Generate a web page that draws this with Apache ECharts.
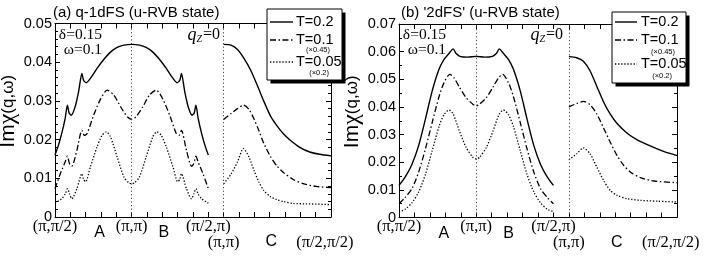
<!DOCTYPE html>
<html><head><meta charset="utf-8">
<script src="https://cdn.jsdelivr.net/npm/echarts@6/dist/echarts.min.js"></script>
<style>html,body{margin:0;padding:0;background:#fff}#c{width:708px;height:257px}</style>
</head><body><div id="c"></div>
<script>
// ---- x positions (path length along q-path, units of pi/2) ----
const xLabelPos   = [0, 0.58, 1, 1.42, 2, 2.2, 2.82, 3.52];
const xLabelText  = ['(π,π/2)', 'A', '(π,π)', 'B', '(π/2,π)', '(π,π)', 'C', '(π/2,π/2)'];
const xLabelStyle = ['p', 'l', 'p', 'l', 'p', 'p2', 'l2', 'p2'];
const vLines = [1, 2.2];

// ---- panel (a) q-1dFS ----
const aT02AB = [[0,.0160],[.044,.0185],[.088,.0216],[.132,.0254],[.162,.0289],[.184,.0269],[.211,.0263],[.263,.0285],[.307,.0323],[.351,.0371],[.373,.0353],[.408,.0347],[.461,.0358],[.548,.0384],[.636,.0407],[.724,.0426],[.811,.0438],[.899,.0444],[1,.0446],
  [1.101,.0444],[1.189,.0438],[1.276,.0426],[1.364,.0407],[1.452,.0384],[1.539,.0358],[1.592,.0347],[1.627,.0353],[1.649,.0371],[1.693,.0323],[1.737,.0285],[1.789,.0263],[1.816,.0269],[1.838,.0289],[1.868,.0254],[1.912,.0216],[1.956,.0185],[2,.0160]];
const aT02C = [[2.2,.0446],[2.294,.0444],[2.38,.0433],[2.465,.0410],[2.551,.0380],[2.637,.0341],[2.722,.0300],[2.808,.0262],[2.894,.0236],[2.979,.0215],[3.065,.0199],[3.193,.0180],[3.322,.0168],[3.45,.0162],[3.6,.0158]];
const aT01AB = [[0,.0073],[.066,.0110],[.132,.0142],[.162,.0157],[.189,.0138],[.219,.0131],[.285,.0172],[.351,.0224],[.382,.0211],[.417,.0215],[.504,.0263],[.592,.0304],[.680,.0328],[.768,.0315],[.855,.0285],[.943,.0259],[1,.0252],
  [1.057,.0259],[1.145,.0285],[1.232,.0315],[1.320,.0328],[1.408,.0304],[1.496,.0263],[1.583,.0215],[1.618,.0211],[1.649,.0224],[1.715,.0172],[1.781,.0131],[1.811,.0138],[1.838,.0157],[1.868,.0142],[1.934,.0110],[2,.0073]];
const aT01C = [[2.2,.0252],[2.294,.0267],[2.38,.0280],[2.457,.0289],[2.53,.0278],[2.594,.0254],[2.658,.0224],[2.722,.0191],[2.808,.0157],[2.894,.0132],[2.979,.0115],[3.108,.0097],[3.236,.0086],[3.407,.0079],[3.6,.0076]];
const aT005AB = [[0,.0036],[.088,.0047],[.132,.0059],[.162,.0073],[.189,.0060],[.219,.0047],[.285,.0073],[.351,.0112],[.373,.0097],[.399,.0091],[.461,.0129],[.548,.0181],[.614,.0211],[.671,.0220],[.724,.0207],[.811,.0155],[.899,.0103],[.965,.0088],[1,.0086],
  [1.035,.0088],[1.101,.0103],[1.189,.0155],[1.276,.0207],[1.329,.0220],[1.386,.0211],[1.452,.0181],[1.539,.0129],[1.601,.0091],[1.627,.0097],[1.649,.0112],[1.715,.0073],[1.781,.0047],[1.811,.0060],[1.838,.0073],[1.868,.0059],[1.912,.0047],[2,.0036]];
const aT005C = [[2.2,.0086],[2.294,.0110],[2.38,.0142],[2.457,.0177],[2.53,.0155],[2.594,.0121],[2.658,.0091],[2.722,.0069],[2.808,.0053],[2.894,.0045],[2.979,.0040],[3.108,.0035],[3.279,.0034],[3.6,.0032]];

// ---- panel (b) '2dFS' ----
const bT02AB = [[0,.0116],[.079,.0146],[.167,.0192],[.254,.0260],[.342,.0356],[.430,.0458],[.518,.0536],[.583,.0572],[.649,.0594],[.702,.0610],[.737,.0594],[.789,.0583],[.890,.0580],[1,.0583],
  [1.110,.0580],[1.211,.0583],[1.263,.0594],[1.298,.0610],[1.351,.0594],[1.417,.0572],[1.482,.0536],[1.570,.0458],[1.658,.0356],[1.746,.0260],[1.833,.0192],[1.921,.0146],[2,.0116]];
const bT02C = [[2.2,.0582],[2.3,.0578],[2.388,.0565],[2.475,.0530],[2.562,.0474],[2.649,.0418],[2.736,.0374],[2.824,.0340],[2.955,.0305],[3.085,.0281],[3.26,.0258],[3.434,.0238],[3.6,.0224]];
const bT01AB = [[0,.0050],[.079,.0072],[.167,.0104],[.254,.0164],[.342,.0248],[.430,.0344],[.518,.0437],[.583,.0488],[.658,.0518],[.715,.0504],[.781,.0472],[.868,.0434],[.956,.0410],[1,.0404],
  [1.044,.0410],[1.132,.0434],[1.219,.0472],[1.285,.0504],[1.342,.0518],[1.417,.0488],[1.482,.0437],[1.570,.0344],[1.658,.0248],[1.746,.0164],[1.833,.0104],[1.921,.0072],[2,.0050]];
const bT01C = [[2.2,.0400],[2.3,.0412],[2.388,.0420],[2.475,.0408],[2.562,.0374],[2.649,.0324],[2.736,.0272],[2.824,.0224],[2.911,.0188],[2.998,.0164],[3.129,.0144],[3.303,.0132],[3.6,.0126]];
const bT005AB = [[0,.0019],[.079,.0030],[.167,.0053],[.254,.0092],[.342,.0156],[.430,.0242],[.518,.0329],[.583,.0372],[.649,.0389],[.702,.0374],[.781,.0314],[.868,.0254],[.956,.0218],[1,.0212],
  [1.044,.0218],[1.132,.0254],[1.219,.0314],[1.298,.0374],[1.351,.0389],[1.417,.0372],[1.482,.0329],[1.570,.0242],[1.658,.0156],[1.746,.0092],[1.833,.0053],[1.921,.0030],[2,.0021]];
const bT005C = [[2.2,.0209],[2.3,.0230],[2.388,.0252],[2.475,.0230],[2.562,.0182],[2.649,.0134],[2.736,.0098],[2.824,.0080],[2.955,.0068],[3.129,.0062],[3.347,.0059],[3.6,.0056]];

// ---- legend / text ----
const legendNames = ['T=0.2', 'T=0.1', 'T=0.05'];
const legendSubs  = ['', '(×0.45)', '(×0.2)'];
const titles = ['(a) q-1dFS (u-RVB state)', "(b) '2dFS' (u-RVB state)"];
const yMax = [0.05, 0.07];

const SANS = 'Liberation Sans, Arial, sans-serif';
const SERIF = 'Liberation Serif, Times New Roman, serif';
const dashDot = [6, 2.5, 1.5, 2.5];
const dotted = [1.3, 1.8];
const styles = [
  {color:'#000', width:1.4, type:'solid'},
  {color:'#000', width:1.3, type:dashDot},
  {color:'#000', width:1.3, type:dotted}
];

const grids = [
  {left:55, top:23.5, width:276, height:193.5, containLabel:false, outerBoundsMode:'none'},
  {left:399, top:24, width:278, height:193.5, containLabel:false, outerBoundsMode:'none'}
];

function xLabelFmt(v) {
  const i = xLabelPos.findIndex(p => Math.abs(p - v) < 1e-6);
  if (i < 0) return '';
  return '{' + xLabelStyle[i] + '|' + xLabelText[i] + '}';
}
const xRich = {
  p:  {fontFamily:SERIF, fontSize:16.5, color:'#000'},
  l:  {fontFamily:SANS, fontSize:16, color:'#000', padding:[7,0,0,0]},
  p2: {fontFamily:SERIF, fontSize:16.5, color:'#000', padding:[16,0,0,0]},
  l2: {fontFamily:SANS, fontSize:16, color:'#000', padding:[16,0,0,0]}
};

const xAxes = [], yAxes = [];
[0,1].forEach(g => {
  xAxes.push({
    type:'value', gridIndex:g, min:0, max:3.6, interval:0.2, position:'bottom',
    axisLine:{show:true, onZero:false, lineStyle:{color:'#000', width:1}},
    axisTick:{show:true, inside:true, length:5, lineStyle:{color:'#000', width:1}},
    splitLine:{show:false},
    axisLabel:{show:true, customValues:xLabelPos, formatter:xLabelFmt, margin:1, rich:xRich, color:'#000'}
  });
  xAxes.push({
    type:'value', gridIndex:g, min:0, max:3.6, interval:0.2, position:'top',
    axisLine:{show:true, onZero:false, lineStyle:{color:'#000', width:1}},
    axisTick:{show:true, inside:true, length:5, lineStyle:{color:'#000', width:1}},
    splitLine:{show:false}, axisLabel:{show:false}
  });
  const minorN = g === 0 ? 5 : 2;
  yAxes.push({
    type:'value', gridIndex:g, min:0, max:yMax[g], interval:0.01, position:'left',
    axisLine:{show:true, onZero:false, lineStyle:{color:'#000', width:1}},
    axisTick:{show:true, inside:true, length:5, lineStyle:{color:'#000', width:1}},
    minorTick:{show:true, splitNumber:minorN, length:3, lineStyle:{color:'#000', width:1}},
    splitLine:{show:false}, minorSplitLine:{show:false},
    axisLabel:{show:true, fontFamily:SANS, fontSize:14.5, color:'#000', margin:3},
    name:'{a|Im}{b|χ}{c|(q,ω)}', nameLocation:'middle', nameRotate:90, nameGap:33,
    nameTextStyle:{color:'#000', padding:[0,0,0,18], rich:{
      a:{fontFamily:SANS, fontSize:21, color:'#000'},
      b:{fontFamily:SERIF, fontSize:24, color:'#000'},
      c:{fontFamily:SANS, fontSize:17, color:'#000'}
    }}
  });
  yAxes.push({
    type:'value', gridIndex:g, min:0, max:yMax[g], interval:0.01, position:'right',
    axisLine:{show:true, onZero:false, lineStyle:{color:'#000', width:1}},
    axisTick:{show:true, inside:true, length:5, lineStyle:{color:'#000', width:1}},
    minorTick:{show:true, splitNumber:minorN, length:3, lineStyle:{color:'#000', width:1}},
    splitLine:{show:false}, axisLabel:{show:false}
  });
});

const panelData = [
  [[aT02AB, aT02C], [aT01AB, aT01C], [aT005AB, aT005C]],
  [[bT02AB, bT02C], [bT01AB, bT01C], [bT005AB, bT005C]]
];
const series = [];
panelData.forEach((pd, g) => {
  pd.forEach((segs, k) => {
    segs.forEach((seg, s) => {
      const ser = {
        type:'line', name:legendNames[k], xAxisIndex:g*2, yAxisIndex:g*2, data:seg,
        symbol:'none', showSymbol:false, smooth:0.25, lineStyle:styles[k], z:3
      };
      if (k === 0 && s === 0) {
        ser.markLine = {
          silent:true, symbol:'none', label:{show:false},
          lineStyle:{color:'#444', width:1, type:[1.2, 2.4]},
          data: vLines.map(v => ({xAxis:v}))
        };
      }
      series.push(ser);
    });
  });
});

// legend boxes (drawn as graphics)
const legendBoxes = [
  {x:267, y:9, w:75, h:71, lx0:270, lx1:293, tx:296, ys:[22,40,62], subX:[0,330,329], subY:[0,50,73]},
  {x:612, y:12, w:74, h:71, lx0:615, lx1:637, tx:641, ys:[22,40,64], subX:[0,675,672], subY:[0,52,76]}
];
const graphics = [];
legendBoxes.forEach(L => {
  graphics.push({type:'rect', z:100, shape:{x:L.x+3.5, y:L.y+3.5, width:L.w, height:L.h}, style:{fill:'#000'}});
  graphics.push({type:'rect', z:101, shape:{x:L.x, y:L.y, width:L.w, height:L.h}, style:{fill:'#fff', stroke:'#000', lineWidth:1}});
  legendNames.forEach((n, k) => {
    graphics.push({type:'line', z:102, shape:{x1:L.lx0, y1:L.ys[k], x2:L.lx1, y2:L.ys[k]},
      style:{stroke:'#000', lineWidth:styles[k].width, lineDash: k===0 ? null : styles[k].type}});
    graphics.push({type:'text', z:102, style:{text:n, x:L.tx, y:L.ys[k], font:'14.5px ' + SANS, fill:'#000',
      align:'left', verticalAlign:'middle', textAlign:'left', textVerticalAlign:'middle'}});
    if (legendSubs[k]) {
      graphics.push({type:'text', z:102, style:{text:legendSubs[k], x:L.subX[k], y:L.subY[k], font:'7.5px ' + SANS, fill:'#000',
        align:'right', verticalAlign:'middle', textAlign:'right', textVerticalAlign:'middle'}});
    }
  });
});
// titles and annotations
const annot = [
  {title:{x:53, y:13}, delta:{x:102, y:35}, omega:{x:102, y:50}, qz:{x:220, y:35}},
  {title:{x:401, y:13}, delta:{x:446, y:35}, omega:{x:446, y:50}, qz:{x:563, y:35}}
];
annot.forEach((A, g) => {
  graphics.push({type:'text', z:90, style:{text:titles[g], x:A.title.x, y:A.title.y, font:'15px ' + SANS, fill:'#000',
    align:'left', verticalAlign:'middle', textAlign:'left', textVerticalAlign:'middle'}});
  graphics.push({type:'text', z:90, style:{text:'δ=0.15', x:A.delta.x, y:A.delta.y, font:'15.5px ' + SERIF, fill:'#000',
    align:'right', verticalAlign:'middle', textAlign:'right', textVerticalAlign:'middle'}});
  graphics.push({type:'text', z:90, style:{text:'ω=0.1', x:A.omega.x, y:A.omega.y, font:'15.5px ' + SERIF, fill:'#000',
    align:'right', verticalAlign:'middle', textAlign:'right', textVerticalAlign:'middle'}});
  graphics.push({type:'text', z:90, style:{text:'{q|q}{z|Z}{e|=0}', x:A.qz.x, y:A.qz.y, fill:'#000',
    align:'right', verticalAlign:'middle', textAlign:'right', textVerticalAlign:'middle',
    rich:{
      q:{fontFamily:SERIF, fontStyle:'italic', fontSize:18, fill:'#000'},
      z:{fontFamily:SERIF, fontStyle:'italic', fontSize:10, fill:'#000', padding:[8,1,0,0]},
      e:{fontFamily:SERIF, fontSize:16, fill:'#000'}
    }}});
});

const chart = echarts.init(document.getElementById('c'), null, {renderer:'canvas'});
chart.setOption({
  animation:false,
  backgroundColor:'#fff',
  grid: grids,
  xAxis: xAxes,
  yAxis: yAxes,
  series: series,
  graphic: graphics
});
</script>
</body></html>
